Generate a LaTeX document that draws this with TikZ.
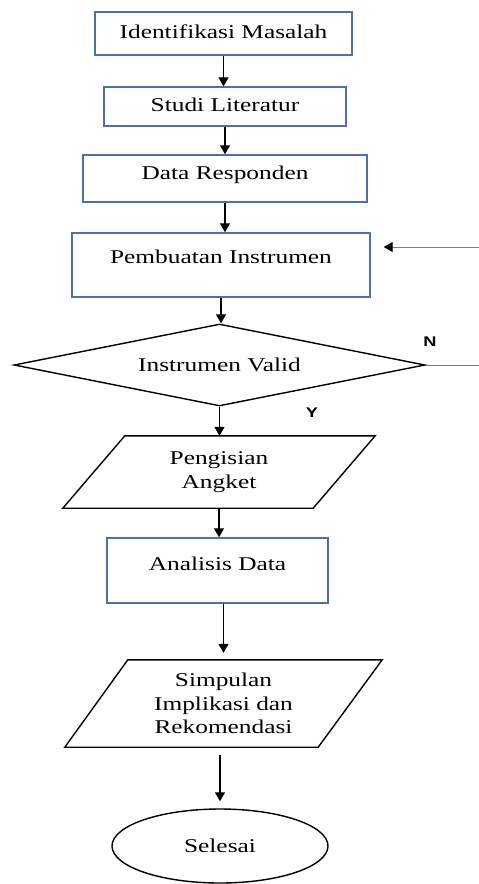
\documentclass[tikz,border=0pt]{standalone}
\usepackage{fontspec}
\setmainfont{Liberation Serif}
\newfontfamily\lblfont{Liberation Sans}
\usetikzlibrary{shapes.geometric,arrows.meta}
\definecolor{boxblue}{RGB}{80,110,170}
\definecolor{linegray}{RGB}{120,120,120}
\newcommand{\wx}[1]{\scalebox{1.3}[1]{#1}}
\begin{document}
\begin{tikzpicture}[x=1pt,y=-1pt,
  font=\fontsize{19.5}{23.5}\selectfont,
  box/.style={draw=boxblue,line width=1.4pt,rectangle,inner sep=0pt,text height=13pt,text depth=4pt},
  blk/.style={draw=black,line width=1.4pt},
  arr/.style={-{Triangle[width=10pt,length=9pt]},line width=1.2pt},
  sidearr/.style={-{Triangle[width=10pt,length=9pt,color=black]},draw=linegray,line width=1pt},
  side/.style={draw=linegray,line width=1pt},
  lbl/.style={font=\lblfont\bfseries\fontsize{14}{16}\selectfont}]
\useasboundingbox (0,0) rectangle (479,884);
\fill[white] (0,0) rectangle (479,884);

\node[box,minimum width=257pt,minimum height=43pt] (b1) at (223.5,33.5) {\wx{Identifikasi Masalah}};
\node[box,minimum width=242pt,minimum height=39pt] (b2) at (225,106.5) {\wx{Studi Literatur}};
\node[box,minimum width=284pt,minimum height=47pt,text depth=11pt] (b3) at (225,178.5) {\wx{Data Responden}};
\node[box,minimum width=298pt,minimum height=64pt,text depth=17pt] (b4) at (221,265) {\wx{Pembuatan Instrumen}};
\node[blk,diamond,aspect=5,minimum width=411pt,minimum height=82pt,inner sep=0pt] (d) at (219.5,365) {\wx{Instrumen Valid}};
\node[minimum width=312pt,minimum height=72pt,inner sep=0pt,align=center] (p1) at (219,472) {\wx{Pengisian}\\\wx{Angket}};
\draw[blk] ([xshift=62pt]p1.north west) -- (p1.north east) -- ([xshift=-62pt]p1.south east) -- (p1.south west) -- cycle;
\node[box,minimum width=221pt,minimum height=65pt,text depth=13pt] (b5) at (217.5,570.5) {\wx{Analisis Data}};
\node[minimum width=317pt,minimum height=87pt,inner sep=0pt,align=center] (p2) at (223.5,703.5) {\wx{Simpulan}\\\wx{Implikasi dan}\\\wx{Rekomendasi}};
\draw[blk] ([xshift=63pt]p2.north west) -- (p2.north east) -- ([xshift=-64pt]p2.south east) -- (p2.south west) -- cycle;
\node[blk,ellipse,minimum width=216pt,minimum height=74pt,inner sep=0pt] (e) at (220,846) {\wx{Selesai}};

\draw[arr] (b1.south) -- (b1.south |- b2.north);
\draw[arr] (b2.south) -- (b2.south |- b3.north);
\draw[arr] (b3.south) -- (b3.south |- b4.north);
\draw[arr] (b4.south) -- (b4.south |- d.north);
\draw[arr] (d.south) -- (d.south |- p1.north);
\draw[arr] (p1.south) -- (p1.south |- b5.north);
\draw[arr,shorten >=7pt] (b5.south -| p2.north) -- (p2.north);
\draw[arr,shorten <=8pt,shorten >=7pt] (p2.south -| e.north) -- (e.north);

\coordinate (r1) at (479,247);
\coordinate (r2) at (479,365);
\draw[sidearr,shorten >=13pt] (r1) -- (b4.east |- r1);
\draw[side] (d.east) -- (r2);
\node[lbl] (n) at (430,342) {\wx{N}};
\node[lbl] (y) at (312,413) {\wx{Y}};
\end{tikzpicture}
\end{document}
